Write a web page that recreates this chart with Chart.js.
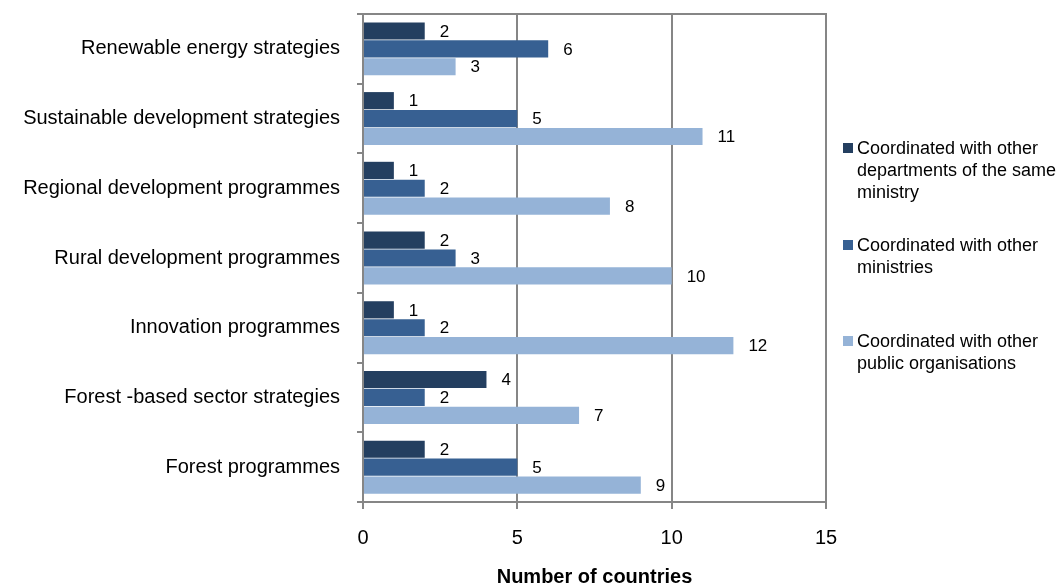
<!DOCTYPE html>
<html>
<head>
<meta charset="utf-8">
<script src="https://cdn.jsdelivr.net/npm/chart.js@4/dist/chart.umd.min.js"></script>
<style>
  html, body { margin: 0; padding: 0; background: #fff; overflow: hidden; }
  #wrap { position: relative; width: 1059px; height: 587px; }
  #legend { position: absolute; left: 843px; top: 0; font: 18px "Liberation Sans", Arial, sans-serif; color: #000; }
  .item { position: absolute; left: 0; line-height: 22px; white-space: nowrap; }
  .item .box { position: absolute; left: 0; top: 6px; width: 10px; height: 10px; }
  .item .txt { margin-left: 14px; }
</style>
</head>
<body>
<div id="wrap">
  <canvas id="coordChart" width="1059" height="587"></canvas>
  <div id="legend"></div>
</div>
<script>
const categories = [
  'Renewable energy strategies',
  'Sustainable development strategies',
  'Regional development programmes',
  'Rural development programmes',
  'Innovation programmes',
  'Forest -based sector strategies',
  'Forest programmes'
];

const sameMinistry = [2, 1, 1, 2, 1, 4, 2];
const otherMinistries = [6, 5, 2, 3, 2, 2, 5];
const publicOrgs = [3, 11, 8, 10, 12, 7, 9];

const seriesNames = [
  ['Coordinated with other', 'departments of the same', 'ministry'],
  ['Coordinated with other', 'ministries'],
  ['Coordinated with other', 'public organisations']
];
const seriesColors = ['#243F60', '#376092', '#95B3D7'];

const xTicks = [0, 5, 10, 15];

const gridColor = '#868686';
const font = 'Liberation Sans, Arial, sans-serif';

// value labels just past the end of every bar
const valueLabels = {
  id: 'valueLabels',
  afterDatasetsDraw(chart) {
    const ctx = chart.ctx;
    ctx.save();
    ctx.font = '17px ' + font;
    ctx.fillStyle = '#000';
    ctx.textAlign = 'left';
    ctx.textBaseline = 'middle';
    chart.data.datasets.forEach((ds, i) => {
      chart.getDatasetMeta(i).data.forEach((bar, j) => {
        ctx.fillText(String(ds.data[j]), bar.x + 15, bar.y + 1);
      });
    });
    ctx.restore();
  }
};

// top edge of the plot frame
const frameTop = {
  id: 'frameTop',
  afterDraw(chart) {
    const { ctx, chartArea } = chart;
    ctx.save();
    ctx.strokeStyle = gridColor;
    ctx.lineWidth = 2;
    ctx.beginPath();
    ctx.moveTo(chartArea.left - 6, chartArea.top);
    ctx.lineTo(chartArea.right + 1, chartArea.top);
    ctx.stroke();
    ctx.restore();
  }
};

const datasets = [sameMinistry, otherMinistries, publicOrgs].map((d, i) => ({
  label: seriesNames[i].join(' '),
  data: d,
  backgroundColor: seriesColors[i],
  borderWidth: 0,
  categoryPercentage: 0.77,
  barPercentage: 0.96
}));

const ctx = document.getElementById('coordChart').getContext('2d');
const myChart = new Chart(ctx, {
  type: 'bar',
  data: { labels: categories, datasets: datasets },
  options: {
    indexAxis: 'y',
    responsive: false,
    animation: false,
    layout: { padding: { top: 14, right: 233, left: 0, bottom: 0 } },
    plugins: {
      legend: { display: false },
      tooltip: { enabled: false }
    },
    scales: {
      x: {
        min: 0,
        max: 15,
        afterBuildTicks(scale) {
          scale.ticks = xTicks.map(v => ({ value: v }));
        },
        afterFit(scale) {
          scale.height = 85;
          scale.paddingLeft = 0;
          scale.paddingRight = 0;
        },
        grid: { color: gridColor, lineWidth: 2, tickLength: 7, tickColor: gridColor },
        border: { color: gridColor, width: 2 },
        ticks: { color: '#000', font: { family: font, size: 20 }, padding: 17, maxRotation: 0 },
        title: {
          display: true,
          text: 'Number of countries',
          color: '#000',
          font: { family: font, size: 20, weight: 'bold', lineHeight: 1.0 },
          padding: { top: 0, bottom: 0 }
        }
      },
      y: {
        afterFit(scale) {
          scale.width = 363;
          scale.paddingTop = 0;
          scale.paddingBottom = 0;
        },
        grid: { drawOnChartArea: false, tickLength: 6, color: gridColor, lineWidth: 2 },
        border: { color: gridColor, width: 2 },
        ticks: { color: '#000', font: { family: font, size: 20 }, padding: 17 }
      }
    }
  },
  plugins: [valueLabels, frameTop]
});

// legend on the right, one block per series
const legendTops = [137, 234, 330];
const legendEl = document.getElementById('legend');
seriesNames.forEach((lines, i) => {
  const item = document.createElement('div');
  item.className = 'item';
  item.style.top = legendTops[i] + 'px';
  const box = document.createElement('span');
  box.className = 'box';
  box.style.background = seriesColors[i];
  const txt = document.createElement('div');
  txt.className = 'txt';
  txt.innerHTML = lines.join('<br>');
  item.appendChild(box);
  item.appendChild(txt);
  legendEl.appendChild(item);
});
</script>
</body>
</html>
